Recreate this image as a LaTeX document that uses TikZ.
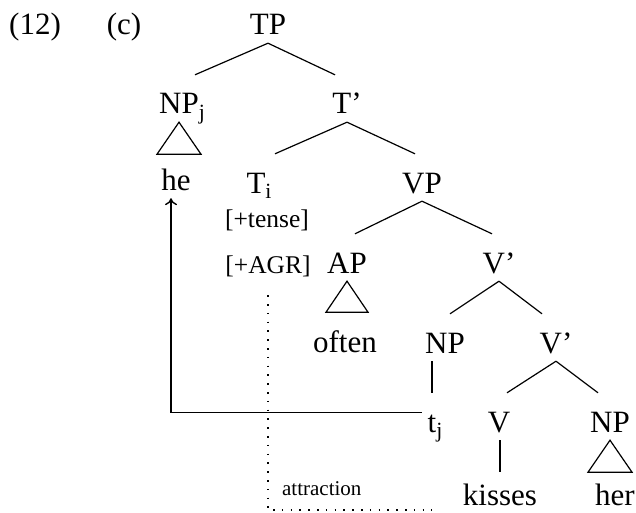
\documentclass[tikz,border=0pt]{standalone}
\usepackage{fontspec}
\setmainfont{Liberation Serif}
\usetikzlibrary{arrows.meta}

\tikzset{
	cat/.style={anchor=base, inner sep=0pt, text height=39pt, text depth=8pt, font=\fontsize{31}{37}\selectfont},
	word/.style={anchor=base, inner sep=0pt, text height=33pt, text depth=0pt, font=\fontsize{31}{37}\selectfont},
	feat/.style={anchor=base, inner sep=0pt, text height=18pt, text depth=6pt, font=\fontsize{25.5}{30}\selectfont},
	branch/.style={line width=1.2pt},
	roof/.style={line width=1.2pt, line join=miter},
	move/.style={line width=1.4pt, -{To[length=7pt,width=12pt]}},
	attract/.style={line width=1.6pt, dash pattern=on 1.6pt off 7.2pt},
}

\begin{document}
\begin{tikzpicture}[x=1pt, y=-1pt]
				\useasboundingbox (0,0) rectangle (636,513);

				% example number
				\node [cat] (exnum) at (35,35) {(12)};
				\node [cat] (exlet) at (124,35) {(c)};

				% tree nodes
				\node [cat]  (tp)    at (268,35)  {TP};
				\node [cat]  (npj)   at (179,114) {NP\rlap{\textsubscript{j}}};
				\node [cat]  (tbar)  at (347,114) {T’};
				\node [word] (he)    at (176,190) {he};
				\node [cat]  (ti)    at (256,193) {T\rlap{\textsubscript{i}}};
				\node [feat] (tense) at (267,227) {[+tense]};
				\node [feat] (agr)   at (268,273) {[+AGR]};
				\node [cat]  (vp)    at (422,193) {VP};
				\node [cat]  (ap)    at (347,273) {AP};
				\node [cat]  (vbara) at (499,273) {V’};
				\node [word] (often) at (345,352) {often};
				\node [cat]  (npb)   at (445,353) {NP};
				\node [cat]  (vbarb) at (556,353) {V’};
				\node [cat]  (tj)    at (432,432) {t\rlap{\textsubscript{j}}};
				\node [cat]  (v)     at (499,432) {V};
				\node [cat]  (npc)   at (610,432) {NP};
				\node [word] (kisses) at (500,505) {kisses};
				\node [word] (her)   at (615,505) {her};

				% branches
				\draw [branch] (tp.south) -- ([xshift=16pt]npj.north);
				\draw [branch] (tp.south) -- ([xshift=-12pt]tbar.north);
				\draw [branch] (tbar.south) -- ([xshift=19pt]ti.north);
				\draw [branch] (tbar.south) -- ([xshift=-7pt]vp.north);
				\draw [branch] (vp.south) -- ([xshift=8pt]ap.north);
				\draw [branch] (vp.south) -- ([xshift=-7pt]vbara.north);
				\draw [branch] (vbara.south) -- ([xshift=5pt]npb.north);
				\draw [branch] (vbara.south) -- ([xshift=-14pt]vbarb.north);
				\draw [branch] (npb.south -| tj) -- (tj.north);
				\draw [branch] (vbarb.south) -- ([xshift=8pt]v.north);
				\draw [branch] (vbarb.south) -- ([xshift=-12pt]npc.north);
				\draw [branch] (v.south -| kisses) -- (kisses.north);

				% roofs
				\draw [roof] (npj.south) -- ++(-22,32) -- ++(44,0) -- cycle;
				\draw [roof] (ap.south) -- ++(-21,31) -- ++(42,0) -- cycle;
				\draw [roof] (npc.south) -- ++(-22,32) -- ++(44,0) -- cycle;

				% movement and attraction
				\draw [move] ([xshift=-6pt,yshift=4pt]tj.west) -| ([xshift=-5pt,yshift=-8pt]he.south);
				\draw [attract] ([yshift=-16pt]agr.south) |- ([yshift=-70pt]tj.south)
					node [pos=0.5, anchor=base west, xshift=10pt, yshift=15pt, font=\fontsize{21}{25}\selectfont] {attraction};

\end{tikzpicture}
\end{document}
